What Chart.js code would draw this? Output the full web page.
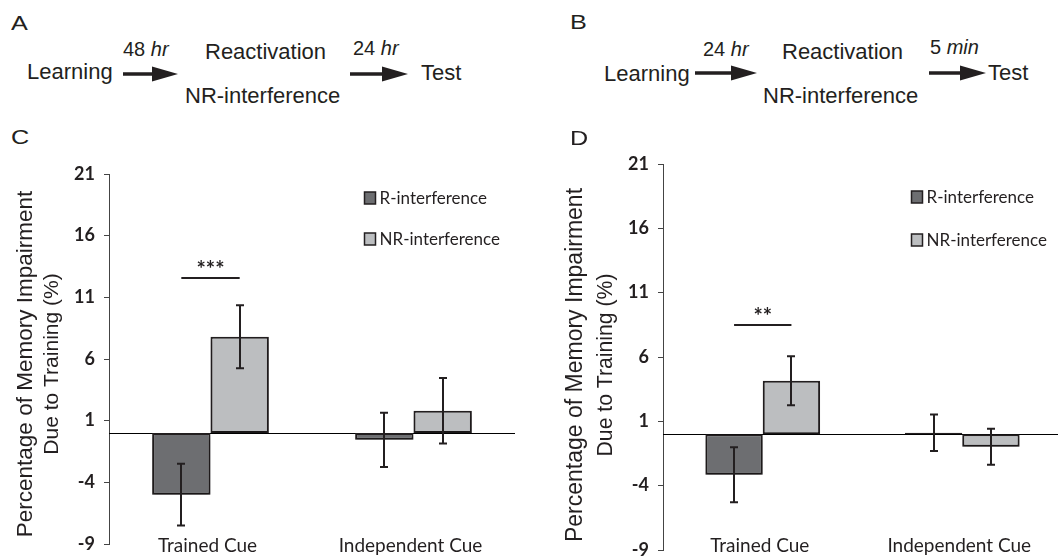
<!DOCTYPE html>
<html>
<head>
<meta charset="utf-8">
<script src="https://cdn.jsdelivr.net/npm/chart.js@4.4.1/dist/chart.umd.min.js"></script>
<style>
  html, body { margin: 0; padding: 0; background: #fff; overflow: hidden; width: 1058px; height: 560px; }
  .t { position: absolute; font-family: "Liberation Sans", Arial, sans-serif; color: #231f20; white-space: nowrap; line-height: 1; }
  .lt { transform: scaleX(1.2); transform-origin: left center; }
  canvas { position: absolute; }
  svg { position: absolute; left: 0; top: 0; }
</style>
</head>
<body>
<svg id="arrows" width="1058" height="140"></svg>
<canvas id="chartC" width="515" height="410" style="left:0px;top:150px;width:515px;height:410px"></canvas>
<canvas id="chartD" width="532" height="420" style="left:530px;top:140px;width:532px;height:420px"></canvas>
<script>
// ---- data ----
const categories = ['Trained Cue', 'Independent Cue'];
const seriesNames = ['R-interference', 'NR-interference'];
const yTicks = [-9, -4, 1, 6, 11, 16, 21];
const yTitle = ['Percentage of Memory Impairment', 'Due to Training (%)'];

// panel C (48 hr / 24 hr)
const cR = [-5.0, -0.55];
const cNR = [7.8, 1.8];
const cErrR = [2.5, 2.2];
const cErrNR = [2.55, 2.65];
const cSig = 12.6;
const cSigText = '***';

// panel D (24 hr / 5 min)
const dR = [-3.15, 0.12];
const dNR = [4.15, -0.97];
const dErrR = [2.14, 1.42];
const dErrNR = [1.9, 1.4];
const dSig = 8.5;
const dSigText = '**';

const ink = '#231f20';
const darkFill = '#6d6e71';
const lightFill = '#bcbec0';

// ---- top schematic text ----
function put(html, x, base, size, cls) {
  const s = document.createElement('span');
  s.className = 't' + (cls ? ' ' + cls : '');
  s.innerHTML = html;
  s.style.left = x + 'px';
  s.style.top = (base - 0.8465 * size) + 'px';
  s.style.fontSize = size + 'px';
  document.body.appendChild(s);
}
put('A', 11, 30, 21, 'lt');
put('Learning', 27, 80, 22);
put('48 <i>hr</i>', 123, 56, 20);
put('Reactivation', 205, 60, 22);
put('NR-interference', 185, 104, 22);
put('24 <i>hr</i>', 353, 55, 20);
put('Test', 421, 81, 22);
put('C', 11, 144, 21, 'lt');

put('B', 570, 29, 21, 'lt');
put('Learning', 604, 82, 22);
put('24 <i>hr</i>', 703, 56, 20);
put('Reactivation', 782, 60, 22);
put('NR-interference', 763, 104, 22);
put('5 <i>min</i>', 930, 54, 20);
put('Test', 988, 81, 22);
put('D', 570, 145, 21, 'lt');

function arrow(x1, x2, y) {
  const head = 26, hh = 7.5, sh = 1.7;
  const p = `${x1},${y - sh} ${x2 - head},${y - sh} ${x2 - head},${y - hh} ${x2},${y} ${x2 - head},${y + hh} ${x2 - head},${y + sh} ${x1},${y + sh}`;
  document.getElementById('arrows').insertAdjacentHTML('beforeend', `<polygon points="${p}" fill="${ink}"/>`);
}
arrow(123, 178, 74);
arrow(350, 408, 74);
arrow(695, 757, 73);
arrow(929, 986, 73);

// ---- chart plugin: shadow, zero line, error bars, significance, legend, labels ----
const panelPlugin = {
  id: 'panel',
  beforeDatasetsDraw(chart) {
    const ctx = chart.ctx, area = chart.chartArea;
    const y0 = Math.round(chart.scales.y.getPixelForValue(0)) + 0.5;
    ctx.save();
    ctx.strokeStyle = '#000';
    ctx.lineWidth = 1;
    ctx.beginPath();
    ctx.moveTo(area.left, y0);
    ctx.lineTo(area.right, y0);
    ctx.stroke();
    ctx.restore();
    ctx.save();
    ctx.shadowColor = 'rgba(0,0,0,0.35)';
    ctx.shadowBlur = 4;
    ctx.shadowOffsetX = 0;
    ctx.shadowOffsetY = 3;
  },
  afterDatasetsDraw(chart, args, opts) {
    const ctx = chart.ctx, area = chart.chartArea, ys = chart.scales.y, xs = chart.scales.x;
    ctx.restore();
    ctx.save();
    ctx.strokeStyle = ink;
    ctx.lineWidth = 2;
    chart.data.datasets.forEach((ds, i) => {
      chart.getDatasetMeta(i).data.forEach((bar, j) => {
        const v = ds.data[j], e = ds.errors[j];
        const x = Math.round(bar.x);
        const top = ys.getPixelForValue(v + e), bot = ys.getPixelForValue(v - e);
        ctx.beginPath();
        ctx.moveTo(x, top); ctx.lineTo(x, bot);
        ctx.moveTo(x - 4, top); ctx.lineTo(x + 4, top);
        ctx.moveTo(x - 4, bot); ctx.lineTo(x + 4, bot);
        ctx.stroke();
      });
    });
    // significance bar between the two bars of the first category
    const b0 = chart.getDatasetMeta(0).data[0], b1 = chart.getDatasetMeta(1).data[0];
    const sy = Math.round(ys.getPixelForValue(opts.sig));
    ctx.beginPath();
    ctx.moveTo(b0.x, sy); ctx.lineTo(b1.x, sy);
    ctx.stroke();
    ctx.fillStyle = ink;
    ctx.font = 'bold 22px Lato';
    ctx.textAlign = 'center';
    ctx.textBaseline = 'alphabetic';
    ctx.fillText(opts.sigText, (b0.x + b1.x) / 2, sy - 1);
    // legend
    ctx.font = '17px Lato';
    ctx.textAlign = 'left';
    ctx.textBaseline = 'middle';
    ctx.lineWidth = 1.5;
    chart.data.datasets.forEach((ds, i) => {
      const cy = area.top + opts.legendTop + i * opts.legendGap;
      const bx = area.right - 150.5;
      ctx.fillStyle = ds.backgroundColor;
      ctx.fillRect(bx, cy - 6, 11, 12);
      ctx.strokeStyle = ink;
      ctx.strokeRect(bx, cy - 6, 11, 12);
      ctx.fillStyle = ink;
      ctx.fillText(ds.label, bx + 15, cy + 1);
    });
    // category labels under the bars
    ctx.font = '19px Lato';
    ctx.textAlign = 'center';
    ctx.textBaseline = 'alphabetic';
    chart.data.labels.forEach((lab, j) => {
      ctx.fillText(lab, xs.getPixelForValue(j) - 3, opts.labelBase);
    });
    // y axis title
    ctx.textBaseline = 'middle';
    yTitle.forEach((line, k) => {
      ctx.save();
      ctx.translate(opts.titleX[k], opts.titleY);
      ctx.rotate(-Math.PI / 2);
      ctx.font = opts.titleSize[k] + 'px "Liberation Sans"';
      ctx.fillText(line, 0, 0);
      ctx.restore();
    });
    ctx.restore();
  }
};

function makeChart(id, r, nr, errR, errNR, p) {
  return new Chart(document.getElementById(id), {
    type: 'bar',
    data: {
      labels: categories,
      datasets: [
        { label: seriesNames[0], data: r, errors: errR, backgroundColor: darkFill },
        { label: seriesNames[1], data: nr, errors: errNR, backgroundColor: lightFill }
      ]
    },
    options: {
      responsive: false,
      animation: false,
      layout: { padding: { top: 24, right: 0, bottom: 0, left: 0 } },
      datasets: {
        bar: {
          borderColor: ink,
          borderWidth: 2,
          borderSkipped: false,
          categoryPercentage: 0.575,
          barPercentage: 1
        }
      },
      plugins: {
        legend: { display: false },
        tooltip: { enabled: false },
        panel: p
      },
      scales: {
        x: {
          grid: { display: false },
          border: { display: false },
          ticks: { display: false },
          afterFit: s => { s.height = p.xHeight; }
        },
        y: {
          min: -9,
          max: 21,
          afterBuildTicks: s => { s.ticks = yTicks.map(v => ({ value: v })); },
          grid: { display: true, drawOnChartArea: false, drawTicks: true, tickLength: 5, color: '#444' },
          border: { display: true, color: '#444', width: 1 },
          ticks: { color: ink, padding: 9, font: { family: 'Lato', size: 18, weight: 'bold' } },
          afterFit: s => {
            s.width = p.yWidth;
            s.paddingTop = 0;
            s.paddingBottom = 0;
          }
        }
      }
    },
    plugins: [panelPlugin]
  });
}

makeChart('chartC', cR, cNR, cErrR, cErrNR, {
  sig: cSig, sigText: cSigText, legendTop: 24, legendGap: 41,
  xHeight: 16, yWidth: 109, labelBase: 402,
  titleX: [26, 52], titleY: 214, titleSize: [22.5, 21]
});
makeChart('chartD', dR, dNR, dErrR, dErrNR, {
  sig: dSig, sigText: dSigText, legendTop: 33, legendGap: 43,
  xHeight: 10, yWidth: 133, labelBase: 412,
  titleX: [46, 76], titleY: 225, titleSize: [23, 21.2]
});
</script>
</body>
</html>
